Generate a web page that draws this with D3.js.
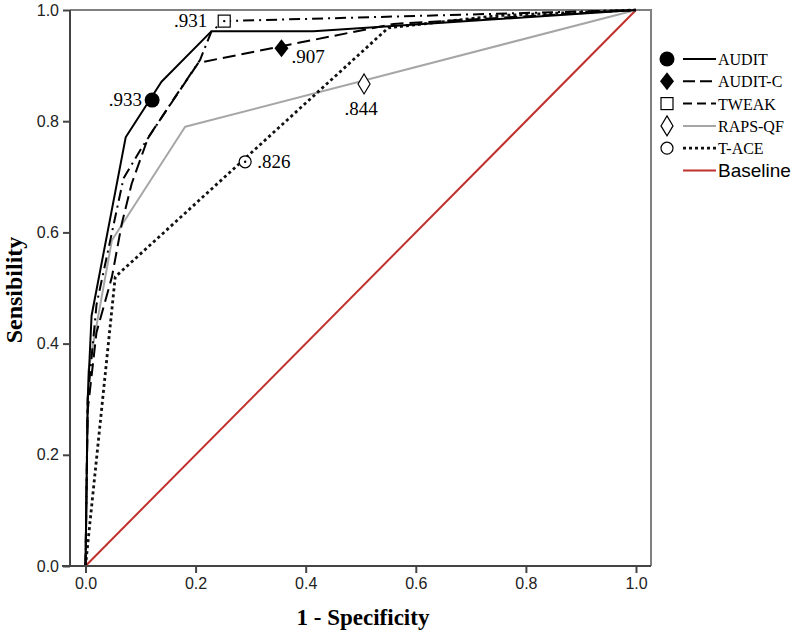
<!DOCTYPE html>
<html>
<head>
<meta charset="utf-8">
<script src="https://cdn.jsdelivr.net/npm/d3@7"></script>
<style>
  body { margin: 0; background: #fff; }
</style>
</head>
<body>
<div id="chart"></div>
<script>
// ROC points: 1 - specificity / sensitivity
const auditFpr  = [0, 0.004, 0.011, 0.073, 0.138, 0.229, 0.414, 1];
const auditTpr  = [0, 0.30, 0.45, 0.771, 0.871, 0.962, 0.962, 1];
const auditcFpr = [0, 0.004, 0.02, 0.048, 0.066, 0.084, 0.114, 0.205, 0.56, 1];
const auditcTpr = [0, 0.28, 0.42, 0.52, 0.616, 0.688, 0.771, 0.905, 0.975, 1];
const tweakFpr  = [0, 0.004, 0.02, 0.069, 0.102, 0.159, 0.208, 0.229, 0.252, 1];
const tweakTpr  = [0, 0.30, 0.47, 0.697, 0.752, 0.838, 0.91, 0.962, 0.98, 1];
const rapsFpr   = [0, 0.005, 0.048, 0.181, 1];
const rapsTpr   = [0, 0.35, 0.586, 0.79, 1];
const taceFpr   = [0, 0.054, 0.55, 0.75, 1];
const taceTpr   = [0, 0.52, 0.968, 0.99, 1];
const baseFpr   = [0, 1];
const baseTpr   = [0, 1];

// AUC annotations and where their marker sits on each curve
const seriesNames = ['AUDIT', 'AUDIT-C', 'TWEAK', 'RAPS-QF', 'T-ACE'];
const aucLabels   = ['.933', '.907', '.931', '.844', '.826'];
const markerFpr   = [0.121, 0.356, 0.252, 0.506, 0.29];
const markerTpr   = [0.838, 0.931, 0.98, 0.867, 0.727];

const tickValues = [0, 0.2, 0.4, 0.6, 0.8, 1.0];

// set the dimensions
const width = 800, height = 634;
const x = d3.scaleLinear().domain([0, 1]).range([85.5, 636]);
const y = d3.scaleLinear().domain([0, 1]).range([566, 10]);

const svg = d3.select('#chart')
  .append('svg')
  .attr('width', width)
  .attr('height', height);

// frame (top and right)
svg.append('path')
  .attr('d', 'M70,10H651V566')
  .attr('fill', 'none')
  .attr('stroke', '#808080')
  .attr('stroke-width', 2);

// line styles per series
const styles = [
  {color: '#000', dash: null, w: 2},
  {color: '#000', dash: '13,6', w: 2},
  {color: '#000', dash: '11,5,2,5', w: 2},
  {color: '#a6a6a6', dash: null, w: 2},
  {color: '#111', dash: '3,3', w: 2.8},
  {color: '#c0302c', dash: null, w: 2}
];

const curves = [
  [auditFpr, auditTpr], [auditcFpr, auditcTpr], [tweakFpr, tweakTpr],
  [rapsFpr, rapsTpr], [taceFpr, taceTpr], [baseFpr, baseTpr]
];

const line = d3.line().x(d => x(d[0])).y(d => y(d[1]));

// draw baseline first, then the curves
[5, 3, 4, 2, 1, 0].forEach(i => {
  const pts = curves[i][0].map((v, j) => [v, curves[i][1][j]]);
  svg.append('path')
    .datum(pts)
    .attr('fill', 'none')
    .attr('stroke', styles[i].color)
    .attr('stroke-width', styles[i].w)
    .attr('stroke-dasharray', styles[i].dash)
    .attr('stroke-linejoin', 'round')
    .attr('d', line);
});

// axes
const xAxis = svg.append('g')
  .attr('transform', 'translate(0,566)')
  .call(d3.axisBottom(x).tickValues(tickValues).tickFormat(d3.format('.1f'))
    .tickSize(7).tickSizeOuter(0).tickPadding(5));
const yAxis = svg.append('g')
  .attr('transform', 'translate(70,0)')
  .call(d3.axisLeft(y).tickValues(tickValues).tickFormat(d3.format('.1f'))
    .tickSize(7).tickSizeOuter(0).tickPadding(4));

[xAxis, yAxis].forEach(g => {
  g.select('.domain').attr('stroke', '#444').attr('stroke-width', 2);
  g.selectAll('.tick line').attr('stroke', '#444').attr('stroke-width', 2);
  g.selectAll('.tick text')
    .attr('fill', '#222')
    .style('font-family', 'Liberation Sans, Arial, sans-serif')
    .style('font-size', '16px');
});
// x axis line runs left to the y tick
xAxis.select('.domain').attr('d', 'M62,0H651');
yAxis.select('.domain').attr('d', 'M0,10V566');

// axis titles
svg.append('text')
  .attr('x', 363).attr('y', 625)
  .attr('text-anchor', 'middle')
  .style('font-family', 'Liberation Serif, Times New Roman, serif')
  .style('font-weight', 'bold')
  .style('font-size', '23px')
  .text('1 - Specificity');
svg.append('text')
  .attr('transform', 'translate(22,290) rotate(-90)')
  .attr('text-anchor', 'middle')
  .style('font-family', 'Liberation Serif, Times New Roman, serif')
  .style('font-weight', 'bold')
  .style('font-size', '24px')
  .text('Sensibility');

// marker shapes
function drawMarker(g, i, cx, cy, legend) {
  if (i === 0) {
    g.append('circle').attr('cx', cx).attr('cy', cy).attr('r', 7.5).attr('fill', '#000');
  } else if (i === 1) {
    g.append('path').attr('d', `M${cx},${cy - 9}L${cx + 7},${cy}L${cx},${cy + 9}L${cx - 7},${cy}Z`).attr('fill', '#000');
  } else if (i === 2) {
    g.append('rect').attr('x', cx - 6).attr('y', cy - 6).attr('width', 12).attr('height', 12)
      .attr('fill', '#fff').attr('stroke', '#000').attr('stroke-width', 1.2);
    if (!legend) g.append('circle').attr('cx', cx).attr('cy', cy).attr('r', 1.2).attr('fill', '#000');
  } else if (i === 3) {
    g.append('path').attr('d', `M${cx},${cy - 10}L${cx + 6},${cy}L${cx},${cy + 10}L${cx - 6},${cy}Z`)
      .attr('fill', '#fff').attr('stroke', '#000').attr('stroke-width', 1.2);
  } else if (i === 4) {
    g.append('circle').attr('cx', cx).attr('cy', cy).attr('r', 6)
      .attr('fill', '#fff').attr('stroke', '#000').attr('stroke-width', 1.2);
    if (!legend) g.append('circle').attr('cx', cx).attr('cy', cy).attr('r', 1.2).attr('fill', '#000');
  }
}

// AUC markers and labels
const labelPos = [
  {dx: -10, dy: 6, anchor: 'end'},
  {dx: 10, dy: 15, anchor: 'start'},
  {dx: -17, dy: 6, anchor: 'end'},
  {dx: -3, dy: 31, anchor: 'middle'},
  {dx: 12, dy: 6, anchor: 'start'}
];
const markers = svg.append('g');
seriesNames.forEach((name, i) => {
  const cx = x(markerFpr[i]), cy = y(markerTpr[i]);
  drawMarker(markers, i, cx, cy, false);
  markers.append('text')
    .attr('x', cx + labelPos[i].dx).attr('y', cy + labelPos[i].dy)
    .attr('text-anchor', labelPos[i].anchor)
    .style('font-family', 'Liberation Serif, Times New Roman, serif')
    .style('font-size', '19px')
    .text(aucLabels[i]);
});

// legend
const legend = svg.append('g');
const legendNames = seriesNames.concat(['Baseline']);
legendNames.forEach((name, i) => {
  const ly = 59 + i * 22.3;
  if (i < 5) drawMarker(legend, i, 667, ly, true);
  legend.append('line')
    .attr('x1', 683).attr('x2', 716).attr('y1', ly).attr('y2', ly)
    .attr('stroke', styles[i].color)
    .attr('stroke-width', styles[i].w)
    .attr('stroke-dasharray', i === 2 ? '9,5' : (i === 1 ? '12,5' : styles[i].dash));
  legend.append('text')
    .attr('x', 718).attr('y', ly + 6)
    .style('font-family', i === 5 ? 'Liberation Sans, Arial, sans-serif' : 'Liberation Serif, Times New Roman, serif')
    .style('font-size', i === 5 ? '19px' : '16px')
    .text(name);
});
</script>
</body>
</html>
